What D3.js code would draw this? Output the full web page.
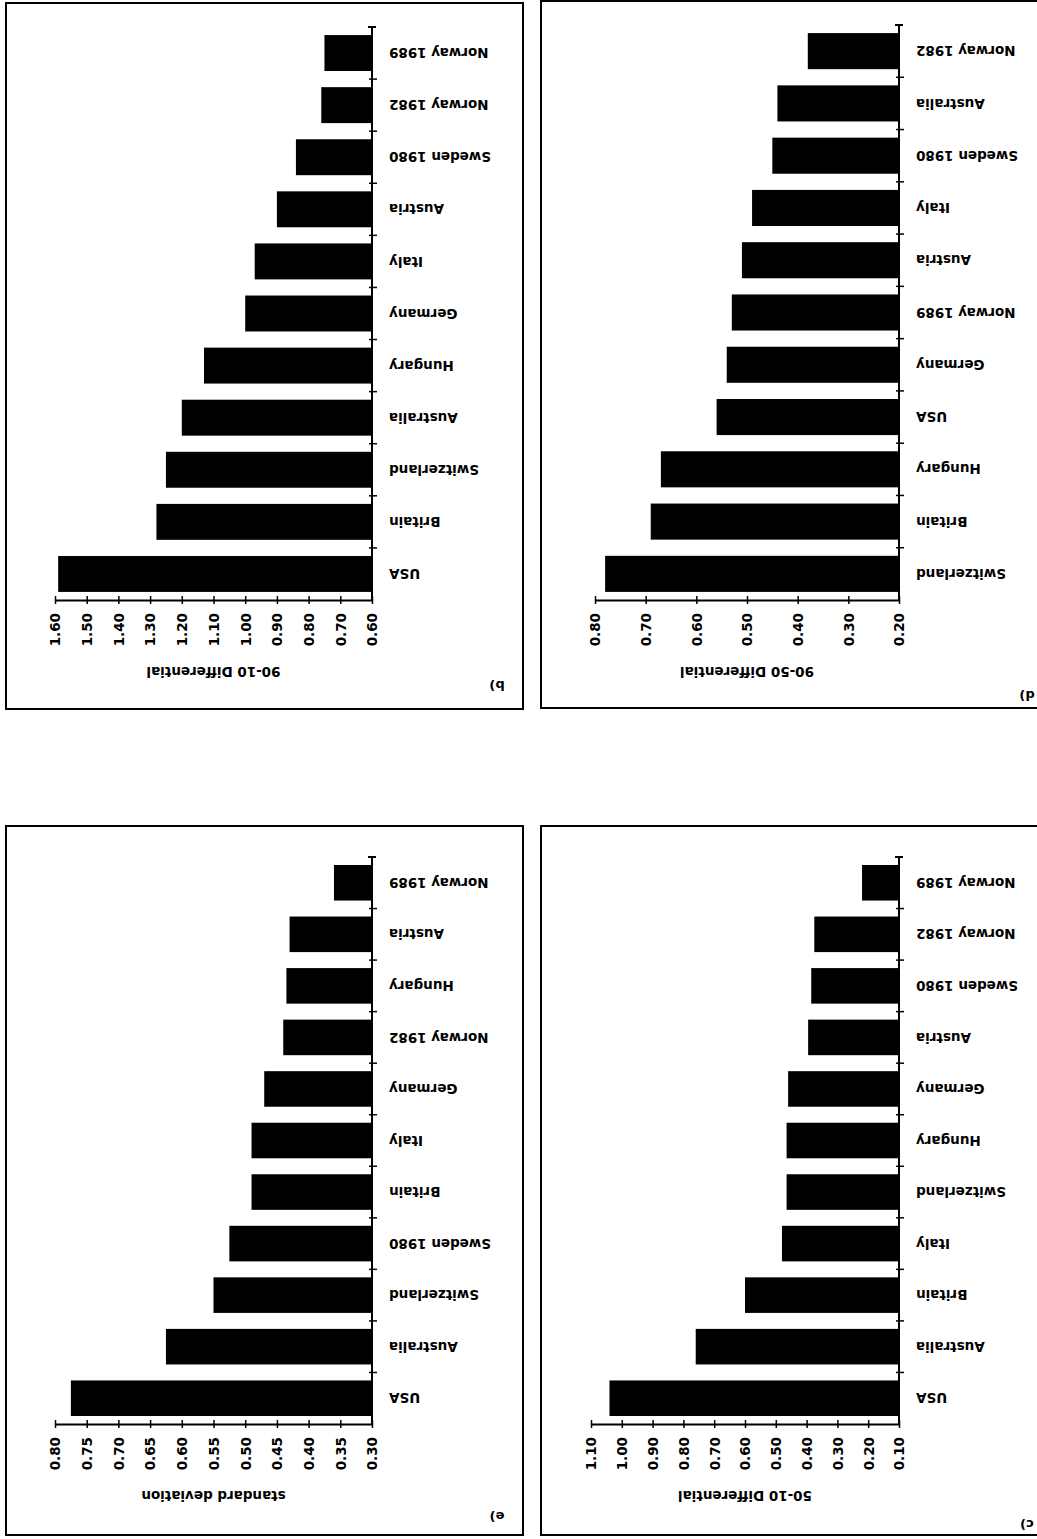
<!DOCTYPE html>
<html>
<head>
<title>Wage differentials by country (four panels)</title>
<script src="https://d3js.org/d3.v7.min.js"></script>
<style>
    body { margin: 0; background: #fff; }
    svg { display: block; }
    text {
        font-family: "DejaVu Sans", "Liberation Sans", sans-serif;
        font-weight: bold;
        fill: #000;
    }
</style>
</head>
<body>
<svg id="chart" width="1037" height="1539"></svg>
<script>
// b) 90-10 differential
var catsB = ['Norway 1989', 'Norway 1982', 'Sweden 1980', 'Austria', 'Italy', 'Germany',
             'Hungary', 'Australia', 'Switzerland', 'Britain', 'USA'];
var valsB = [0.75, 0.76, 0.84, 0.90, 0.97, 1.00, 1.13, 1.20, 1.25, 1.28, 1.59];
var ticksB = [1.60, 1.50, 1.40, 1.30, 1.20, 1.10, 1.00, 0.90, 0.80, 0.70, 0.60];

// d) 90-50 differential
var catsD = ['Norway 1982', 'Australia', 'Sweden 1980', 'Italy', 'Austria', 'Norway 1989',
             'Germany', 'USA', 'Hungary', 'Britain', 'Switzerland'];
var valsD = [0.38, 0.44, 0.45, 0.49, 0.51, 0.53, 0.54, 0.56, 0.67, 0.69, 0.78];
var ticksD = [0.80, 0.70, 0.60, 0.50, 0.40, 0.30, 0.20];

// e) standard deviation
var catsE = ['Norway 1989', 'Austria', 'Hungary', 'Norway 1982', 'Germany', 'Italy',
             'Britain', 'Sweden 1980', 'Switzerland', 'Australia', 'USA'];
var valsE = [0.36, 0.43, 0.435, 0.44, 0.47, 0.49, 0.49, 0.525, 0.55, 0.625, 0.775];
var ticksE = [0.80, 0.75, 0.70, 0.65, 0.60, 0.55, 0.50, 0.45, 0.40, 0.35, 0.30];

// c) 50-10 differential
var catsC = ['Norway 1989', 'Norway 1982', 'Sweden 1980', 'Austria', 'Germany', 'Hungary',
             'Switzerland', 'Italy', 'Britain', 'Australia', 'USA'];
var valsC = [0.22, 0.375, 0.385, 0.395, 0.46, 0.465, 0.465, 0.48, 0.60, 0.76, 1.04];
var ticksC = [1.10, 1.00, 0.90, 0.80, 0.70, 0.60, 0.50, 0.40, 0.30, 0.20, 0.10];

var svg = d3.select('#chart');

function drawPanel(p) {
    var g = svg.append('g');

    // frame round the panel
    g.append('rect')
        .attr('x', p.frame[0]).attr('y', p.frame[1])
        .attr('width', p.frame[2]).attr('height', p.frame[3])
        .attr('fill', 'none').attr('stroke', '#000').attr('stroke-width', 2);

    var lo = d3.min(p.ticks), hi = d3.max(p.ticks);
    // bars grow leftwards from the axis, so the big values sit on the left
    var x = d3.scaleLinear().domain([hi, lo]).range([p.left, p.axis]);
    var y = d3.scaleBand().domain(p.cats).range([p.top, p.bottom])
        .paddingInner(0.31).paddingOuter(0.155);

    var rows = p.cats.map(function (c, i) { return { cat: c, val: p.vals[i] }; });

    g.selectAll('.bar')
        .data(rows)
        .enter().append('rect')
        .attr('class', 'bar')
        .attr('x', function (d) { return x(d.val); })
        .attr('y', function (d) { return y(d.cat); })
        .attr('width', function (d) { return x(lo) - x(d.val); })
        .attr('height', y.bandwidth())
        .attr('fill', '#000');

    // category axis: vertical line with little crosses at the band edges
    g.append('line')
        .attr('x1', p.axis).attr('x2', p.axis)
        .attr('y1', p.top).attr('y2', p.bottom)
        .attr('stroke', '#000').attr('stroke-width', 2);
    g.append('line')
        .attr('x1', p.axis - 4).attr('x2', p.axis + 4)
        .attr('y1', p.top).attr('y2', p.top)
        .attr('stroke', '#000').attr('stroke-width', 2);
    var edges = d3.range(1, p.cats.length).map(function (i) { return p.top + i * y.step(); });
    g.selectAll('.ctick')
        .data(edges)
        .enter().append('line')
        .attr('class', 'ctick')
        .attr('x1', p.axis - 3).attr('x2', p.axis + 5)
        .attr('y1', function (d) { return d; })
        .attr('y2', function (d) { return d; })
        .attr('stroke', '#000').attr('stroke-width', 1.5);

    // category labels, upside down like the scan
    g.selectAll('.clabel')
        .data(rows)
        .enter().append('text')
        .attr('class', 'clabel')
        .attr('transform', function (d) {
            return 'translate(' + (p.axis + 17) + ',' + (y(d.cat) + y.bandwidth() / 2) + ') rotate(180)';
        })
        .attr('text-anchor', 'end')
        .attr('dy', '0.36em')
        .style('font-size', '13.5px')
        .text(function (d) { return d.cat; });

    // value axis along the bottom
    var ax = g.append('g')
        .attr('transform', 'translate(0,' + p.bottom + ')')
        .call(d3.axisBottom(x).tickValues(p.ticks).tickFormat(d3.format('.2f'))
            .tickSizeInner(4).tickSizeOuter(0));
    ax.select('.domain').attr('stroke-width', 2);
    ax.selectAll('.tick line').attr('y1', -4).attr('stroke-width', 1.5);
    ax.selectAll('.tick text')
        .attr('x', -13).attr('y', 0).attr('dy', '0.36em')
        .attr('transform', 'rotate(-90)')
        .attr('text-anchor', 'end')
        .style('font-size', '13.5px')
        .style('font-family', '"DejaVu Sans", sans-serif')
        .style('font-weight', 'bold');

    // axis title
    g.append('text')
        .attr('transform', 'translate(' + ((p.left + p.axis) / 2) + ',' + (p.bottom + 72) + ') rotate(180)')
        .attr('text-anchor', 'middle')
        .attr('dy', '0.36em')
        .style('font-size', '13.5px')
        .text(p.title);

    // panel letter
    g.append('text')
        .attr('transform', 'translate(' + p.tag[0] + ',' + p.tag[1] + ') rotate(180)')
        .attr('text-anchor', 'middle')
        .attr('dy', '0.36em')
        .style('font-size', '13px')
        .text(p.letter);
}

drawPanel({ cats: catsB, vals: valsB, ticks: ticksB, title: '90-10 Differential', letter: 'b)',
            frame: [6, 3, 517, 706], axis: 372, left: 55, top: 27, bottom: 600, tag: [497, 686] });
drawPanel({ cats: catsD, vals: valsD, ticks: ticksD, title: '90-50 Differential', letter: 'd)',
            frame: [541, 1, 520, 707], axis: 899, left: 595, top: 25, bottom: 600, tag: [1027, 696] });
drawPanel({ cats: catsE, vals: valsE, ticks: ticksE, title: 'standard deviation', letter: 'e)',
            frame: [6, 826, 517, 709], axis: 372, left: 55, top: 857, bottom: 1424, tag: [497, 1517] });
drawPanel({ cats: catsC, vals: valsC, ticks: ticksC, title: '50-10 Differential', letter: 'c)',
            frame: [541, 826, 520, 709], axis: 899, left: 591, top: 857, bottom: 1424, tag: [1027, 1525] });
</script>
</body>
</html>
